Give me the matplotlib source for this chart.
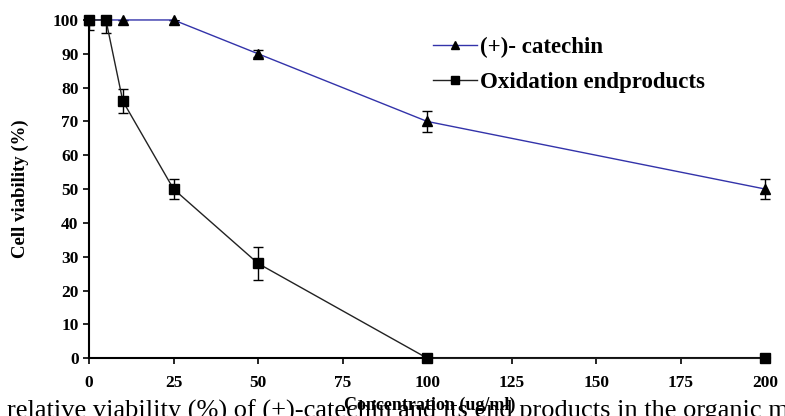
import matplotlib
matplotlib.use("Agg")
import matplotlib.pyplot as plt
from matplotlib.lines import Line2D

conc = [0, 5, 10, 25, 50, 100, 200]
catechin = [100, 100, 100, 100, 90, 70, 50]
catechin_err = [0, 0, 0, 0, 1, 3, 3]
oxid = [100, 100, 76, 50, 28, 0, 0]
oxid_err = [3, 4, 3.5, 3, 5, 0, 0]
xticks = [0, 25, 50, 75, 100, 125, 150, 175, 200]
yticks = [0, 10, 20, 30, 40, 50, 60, 70, 80, 90, 100]

plt.rcParams['font.family'] = ['Liberation Serif', 'DejaVu Serif']
fig = plt.figure(figsize=(7.85, 4.16), dpi=100)
ax = fig.add_axes([0.1134, 0.139, 0.868, 0.813])

cat_color = '#3333aa'
ox_color = '#222222'
e1 = ax.errorbar(conc, catechin, yerr=catechin_err, color=cat_color, lw=1,
                 marker='^', ms=6.5, mfc='black', mec='black', ecolor='black',
                 elinewidth=1, capsize=3.5, zorder=3)
e2 = ax.errorbar(conc, oxid, yerr=oxid_err, color=ox_color, lw=1,
                 marker='s', ms=6.5, mfc='black', mec='black', ecolor='black',
                 elinewidth=1, capsize=3.5, zorder=4)
for e in (e1, e2):
    e[0].set_clip_on(False)

ax.set_xlim(0, 201.5)
ax.set_ylim(0, 100)
ax.set_xticks(xticks)
ax.set_yticks(yticks)
for s in ['top', 'right']:
    ax.spines[s].set_visible(False)
for s in ['left', 'bottom']:
    ax.spines[s].set_linewidth(1.5)
ax.tick_params(axis='both', direction='out', length=4, width=1.2, labelsize=12.5)
for lab in ax.get_xticklabels() + ax.get_yticklabels():
    lab.set_fontweight('bold')
ax.xaxis.set_tick_params(pad=8)
ax.set_xlabel('Concentration (ug/ml)', fontsize=13, fontweight='bold', labelpad=4)
ax.set_ylabel('Cell viability (%)', fontsize=13.5, fontweight='bold', labelpad=17)

handles = [Line2D([], [], color=cat_color, lw=1, marker='^', ms=6, mfc='black', mec='black'),
           Line2D([], [], color=ox_color, lw=1, marker='s', ms=6, mfc='black', mec='black')]
ax.legend(handles, ['(+)- catechin', 'Oxidation endproducts'], loc='upper left',
          bbox_to_anchor=(0.475, 1.01), frameon=False,
          prop={'weight': 'bold', 'size': 16.5}, handlelength=1.9,
          handletextpad=0.15, labelspacing=0.6)

fig.text(0.009, -0.004, 'relative viability (%) of (+)-catechin and its end products in the organic medium',
         fontsize=19, ha='left', va='baseline')

fig.savefig('out.png', dpi=100)
